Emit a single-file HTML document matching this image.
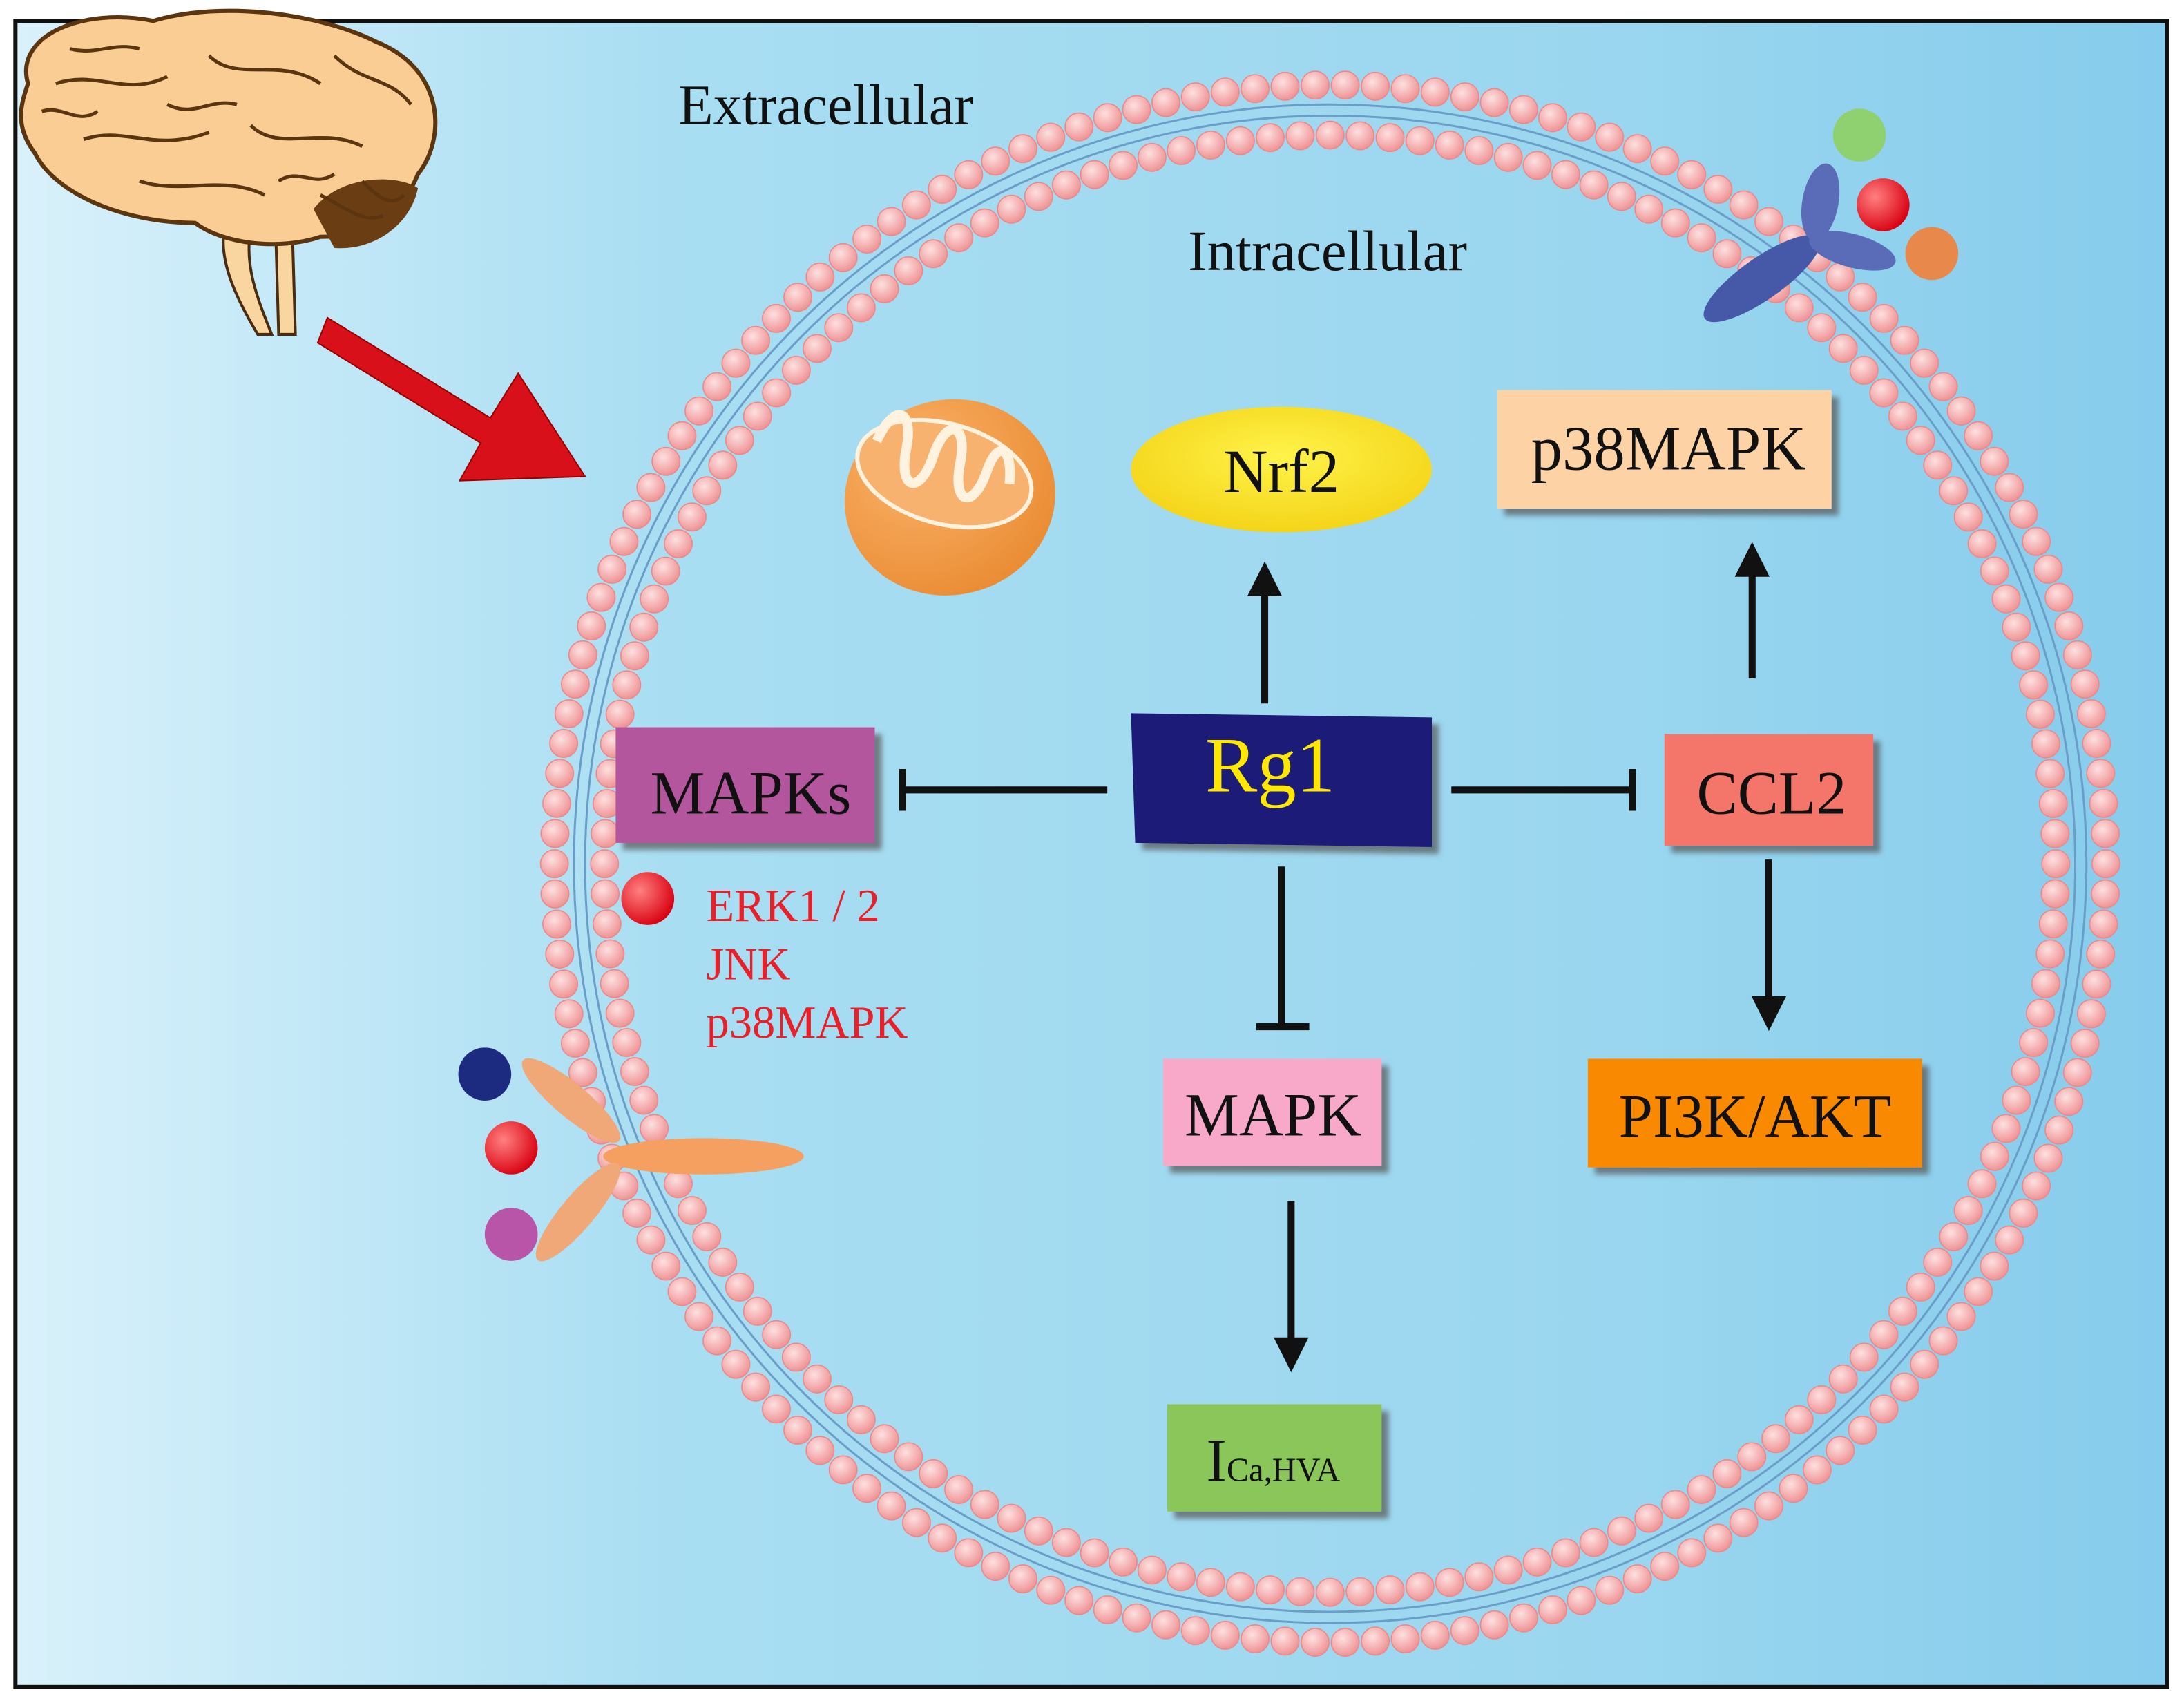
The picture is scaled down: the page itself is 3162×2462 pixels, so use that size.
<!DOCTYPE html>
<html><head><meta charset="utf-8"><style>
html,body{margin:0;padding:0;background:#fff}
svg{display:block}
text{font-family:"Liberation Serif",serif}
</style></head><body>
<svg id="s" width="3162" height="2462" viewBox="0 0 1568 1221" xmlns="http://www.w3.org/2000/svg">
<defs>
<linearGradient id="bg" x1="0" x2="1" y1="0" y2="0">
<stop offset="0" stop-color="#d9f1fb"/><stop offset="0.3" stop-color="#a9def2"/><stop offset="0.75" stop-color="#9ad6ef"/><stop offset="1" stop-color="#86ccec"/></linearGradient>
<radialGradient id="bead" cx="0.4" cy="0.35" r="0.7"><stop offset="0" stop-color="#fde0e0"/><stop offset="1" stop-color="#ee8e90"/></radialGradient>
<radialGradient id="mito" cx="0.4" cy="0.3" r="0.8"><stop offset="0" stop-color="#fbb36a"/><stop offset="1" stop-color="#e8882e"/></radialGradient>
<radialGradient id="nrf" cx="0.5" cy="0.4" r="0.7"><stop offset="0" stop-color="#fff34a"/><stop offset="1" stop-color="#f2cf10"/></radialGradient>
<radialGradient id="rb" cx="0.35" cy="0.35" r="0.7"><stop offset="0" stop-color="#ff8080"/><stop offset="1" stop-color="#d80010"/></radialGradient>
<filter id="sh"><feDropShadow dx="5" dy="5" stdDeviation="2" flood-color="#555" flood-opacity="0.7"/></filter>
<marker id="ar" markerWidth="8" markerHeight="8" refX="4" refY="4" orient="auto" markerUnits="strokeWidth"><path d="M0,1.5 L5,4 L0,6.5 z" fill="#111"/></marker>
</defs>
<rect x="0" y="0" width="1568" height="1221" fill="#fff"/>
<rect x="11" y="15" width="1545" height="1196" fill="url(#bg)" stroke="#111" stroke-width="3"/>
<g id="mem"></g>
<g>
<path d="M162,160 C155,185 170,215 185,240 L195,240 C185,215 175,190 180,165 Z" fill="#f9d5a0" stroke="#4a2c10" stroke-width="2"/>
<path d="M198,170 L200,240 L212,240 L210,170 Z" fill="#f9d5a0" stroke="#4a2c10" stroke-width="2"/>
<path d="M20,60 C10,25 60,5 110,15 C160,0 230,10 270,30 C320,50 320,100 300,125 C290,150 270,170 230,170 C200,180 160,175 140,160 C90,160 40,140 25,110 C10,90 15,75 20,60 Z" fill="#f9cd94" stroke="#5a3510" stroke-width="3"/>
<path d="M225,150 C245,125 285,125 300,135 C295,160 270,180 240,178 Z" fill="#6b3d12"/>
<path d="M40,60 C70,50 90,70 120,55 M60,100 C90,90 110,110 150,95 M150,40 C170,60 200,40 230,60 M180,90 C200,110 230,90 260,105 M100,130 C130,140 160,125 190,140 M240,40 C260,60 280,55 295,75 M50,35 C70,40 80,30 100,35 M200,130 C215,120 225,135 240,125 M30,80 C45,75 55,90 70,80 M120,75 C140,85 150,70 170,75 M260,130 C270,140 280,150 290,140 M230,140 C250,150 260,160 275,155" fill="none" stroke="#5a3510" stroke-width="2.5"/>
</g>
<path d="M235,228 L352,300 L372,268 L420,342 L330,345 L345,318 L228,246 Z" fill="#d8101a" stroke="#900" stroke-width="1"/>
<text x="487" y="89" font-size="41" fill="#111">Extracellular</text>
<text x="853" y="194" font-size="41" fill="#111">Intracellular</text>
<ellipse cx="682" cy="357" rx="76" ry="70" fill="url(#mito)" transform="rotate(-15 682 357)"/>
<ellipse cx="678" cy="340" rx="64" ry="36" fill="#f6b26e" stroke="#fff3e0" stroke-width="3" transform="rotate(15 678 340)"/>
<path d="M625,330 c5,-30 20,-30 22,0 c2,30 18,30 20,0 c2,-30 18,-30 20,0 c2,30 18,30 20,0 c2,-25 14,-20 18,5" fill="none" stroke="#fff3e0" stroke-width="7" transform="rotate(15 678 340)"/>
<ellipse cx="920" cy="337" rx="108" ry="45" fill="url(#nrf)"/>
<text x="920" y="353" font-size="44" text-anchor="middle" fill="#111">Nrf2</text>
<g filter="url(#sh)">
<rect x="1075" y="280" width="240" height="85" fill="#fdd3a6"/>
<rect x="442" y="522" width="186" height="83" fill="#b4579e"/>
<rect x="1195" y="527" width="150" height="80" fill="#f4766a"/>
<rect x="835" y="760" width="157" height="77" fill="#f8a8c8"/>
<rect x="1140" y="760" width="240" height="78" fill="#f98a00"/>
<rect x="838" y="1008" width="154" height="77" fill="#8bc65a"/>
<path d="M812,512 L1028,515 L1028,608 L815,605 Z" fill="#1a1a78"/>
</g>
<text x="1198" y="337" font-size="45" text-anchor="middle" fill="#111">p38MAPK</text>
<text x="539" y="584" font-size="44" text-anchor="middle" fill="#111">MAPKs</text>
<text x="1272" y="584" font-size="44" text-anchor="middle" fill="#111">CCL2</text>
<text x="914" y="815" font-size="44" text-anchor="middle" fill="#111">MAPK</text>
<text x="1260" y="816" font-size="44" text-anchor="middle" fill="#111">PI3K/AKT</text>
<text x="866" y="1063" font-size="44" fill="#111">I<tspan font-size="24">Ca,HVA</tspan></text>
<text x="912" y="568" font-size="56" text-anchor="middle" fill="#ffe800">Rg1</text>
<g stroke="#111" stroke-width="5" fill="none">
<line x1="908" y1="505" x2="908" y2="408" marker-end="url(#ar)"/>
<line x1="1258" y1="487" x2="1258" y2="394" marker-end="url(#ar)"/>
<line x1="1270" y1="617" x2="1270" y2="735" marker-end="url(#ar)"/>
<line x1="927" y1="862" x2="927" y2="980" marker-end="url(#ar)"/>
<line x1="795" y1="567" x2="648" y2="567"/><line x1="648" y1="552" x2="648" y2="582"/>
<line x1="1042" y1="567" x2="1172" y2="567"/><line x1="1172" y1="552" x2="1172" y2="582"/>
<line x1="920" y1="622" x2="920" y2="737"/><line x1="902" y1="737" x2="940" y2="737"/>
</g>
<circle cx="465" cy="645" r="19" fill="url(#rb)"/>
<g font-size="33" fill="#e8202a"><text x="507" y="661">ERK1 / 2</text><text x="507" y="703">JNK</text><text x="507" y="745">p38MAPK</text></g>
<g>
<ellipse cx="505" cy="830" rx="72" ry="13" fill="#f5a060"/>
<ellipse cx="410" cy="790" rx="45" ry="12" fill="#f0a878" transform="rotate(40 410 790)"/>
<ellipse cx="415" cy="870" rx="45" ry="12" fill="#f0a878" transform="rotate(-50 415 870)"/>
<circle cx="348" cy="771" r="19" fill="#1c2a80"/>
<circle cx="367" cy="824" r="19" fill="url(#rb)"/>
<circle cx="367" cy="886" r="19" fill="#b855a8"/>
</g>
<g>
<ellipse cx="1265" cy="200" rx="50" ry="15" fill="#4658a8" transform="rotate(-35 1265 200)"/>
<ellipse cx="1307" cy="145" rx="28" ry="13" fill="#5a6cb8" transform="rotate(-80 1307 145)"/>
<ellipse cx="1330" cy="180" rx="32" ry="12" fill="#5a6cb8" transform="rotate(15 1330 180)"/>
<circle cx="1335" cy="97" r="19" fill="#8fd070"/>
<circle cx="1352" cy="147" r="19" fill="url(#rb)"/>
<circle cx="1387" cy="182" r="19" fill="#e8884a"/>
</g>
</svg>
<script>
var g=document.getElementById('mem'),ns='http://www.w3.org/2000/svg',cx=955,cy=620;
function c(t,a){var e=document.createElementNS(ns,t);for(var k in a)e.setAttribute(k,a[k]);g.appendChild(e);}
c('ellipse',{cx:cx,cy:cy,rx:543,ry:545,fill:'none',stroke:'#6a9ec8','stroke-width':1.5});
c('ellipse',{cx:cx,cy:cy,rx:535,ry:537,fill:'none',stroke:'#6a9ec8','stroke-width':1.5});
[[557,559,162],[521,523,152]].forEach(function(r){for(var i=0;i<r[2];i++){var a=i/r[2]*2*Math.PI;c('circle',{cx:cx+r[0]*Math.cos(a),cy:cy+r[1]*Math.sin(a),r:10,fill:'url(#bead)',stroke:'#e88','stroke-width':0.8});}});
</script>
</body></html>
